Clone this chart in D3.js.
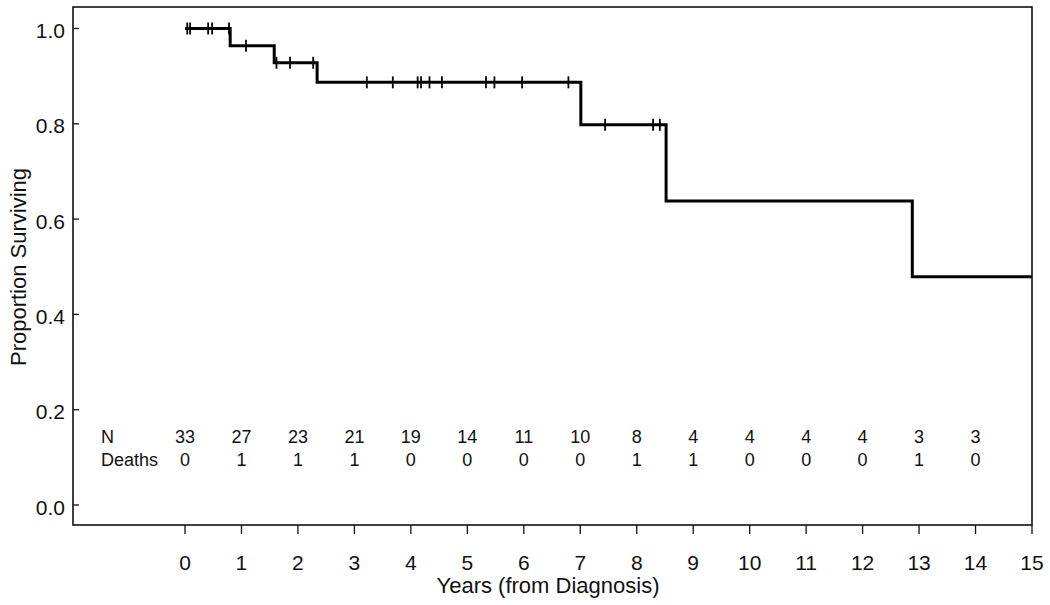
<!DOCTYPE html>
<html>
<head>
<meta charset="utf-8">
<script src="https://cdn.jsdelivr.net/npm/d3@7"></script>
<style>
  html, body { margin: 0; padding: 0; background: #fff; }
  svg { display: block; }
  text { font-family: "Liberation Sans", Arial, sans-serif; fill: #111; }
</style>
</head>
<body>
<svg id="chart" width="1050" height="605"></svg>
<script>
// ---- data ----
const stepTimes = [0, 0.80, 1.58, 2.34, 7.01, 8.52, 12.88];
const stepSurv  = [1.0, 0.964, 0.928, 0.887, 0.798, 0.638, 0.479];
const endTime = 15;
const censorTimes = [0.04, 0.09, 0.41, 0.48, 0.78, 1.08, 1.62, 1.86, 2.27,
  3.22, 3.68, 4.12, 4.18, 4.33, 4.55, 5.33, 5.48, 5.97, 6.79, 7.44, 8.29, 8.41];
const xTicks = [0,1,2,3,4,5,6,7,8,9,10,11,12,13,14,15];
const yTicks = [0.0, 0.2, 0.4, 0.6, 0.8, 1.0];
const tableYears = [0,1,2,3,4,5,6,7,8,9,10,11,12,13,14];
const atRisk = [33,27,23,21,19,14,11,10,8,4,4,4,4,3,3];
const deaths = [0,1,1,1,0,0,0,0,1,1,0,0,0,1,0];

// ---- layout ----
const box = {left: 73, right: 1032, top: 7, bottom: 525};
const svg = d3.select("#chart");
const x = d3.scaleLinear().domain([0, 15]).range([185, 1032]);
const y = d3.scaleLinear().domain([0, 1]).range([505, 28.5]);

// frame
svg.append("rect")
  .attr("x", box.left).attr("y", box.top)
  .attr("width", box.right - box.left).attr("height", box.bottom - box.top)
  .attr("fill", "none").attr("stroke", "#111").attr("stroke-width", 1.6);

// y axis ticks (inside) and labels
const yAxis = svg.append("g");
yAxis.selectAll("line").data(yTicks).join("line")
  .attr("x1", box.left).attr("x2", box.left + 6)
  .attr("y1", d => y(d)).attr("y2", d => y(d))
  .attr("stroke", "#111").attr("stroke-width", 1.3);
yAxis.selectAll("text").data(yTicks).join("text")
  .attr("x", 65).attr("y", d => y(d) + 9.5)
  .attr("text-anchor", "end").attr("font-size", 21)
  .text(d => d3.format(".1f")(d));

// x axis ticks (outside) and labels
const xAxis = svg.append("g");
xAxis.selectAll("line").data(xTicks).join("line")
  .attr("x1", d => x(d)).attr("x2", d => x(d))
  .attr("y1", box.bottom).attr("y2", box.bottom + 9)
  .attr("stroke", "#111").attr("stroke-width", 1.3);
xAxis.selectAll("text").data(xTicks).join("text")
  .attr("x", d => x(d)).attr("y", 570)
  .attr("text-anchor", "middle").attr("font-size", 21)
  .text(d => d);

// axis titles
svg.append("text")
  .attr("x", 548).attr("y", 593)
  .attr("text-anchor", "middle").attr("font-size", 22)
  .text("Years (from Diagnosis)");
svg.append("text")
  .attr("transform", "translate(26,267) rotate(-90)")
  .attr("text-anchor", "middle").attr("font-size", 22)
  .text("Proportion Surviving");

// survival curve
const pts = stepTimes.map((t, i) => [t, stepSurv[i]]);
pts.push([endTime, stepSurv[stepSurv.length - 1]]);
const line = d3.line().x(d => x(d[0])).y(d => y(d[1])).curve(d3.curveStepAfter);
svg.append("path").datum(pts)
  .attr("d", line).attr("fill", "none")
  .attr("stroke", "#000").attr("stroke-width", 3)
  .attr("stroke-linejoin", "miter");

// censor marks
function survAt(t) {
  let s = stepSurv[0];
  for (let i = 0; i < stepTimes.length; i++) if (stepTimes[i] <= t) s = stepSurv[i];
  return s;
}
svg.append("g").selectAll("line").data(censorTimes).join("line")
  .attr("x1", d => x(d)).attr("x2", d => x(d))
  .attr("y1", d => y(survAt(d)) - 6).attr("y2", d => y(survAt(d)) + 6)
  .attr("stroke", "#000").attr("stroke-width", 1.8);

// table
const tbl = svg.append("g");
tbl.append("text").attr("x", 101).attr("y", 443).attr("font-size", 18).text("N");
tbl.append("text").attr("x", 101).attr("y", 466).attr("font-size", 18).text("Deaths");
tbl.selectAll("text.n").data(tableYears).join("text").attr("class", "n")
  .attr("x", d => x(d)).attr("y", 443).attr("text-anchor", "middle").attr("font-size", 18)
  .text((d, i) => atRisk[i]);
tbl.selectAll("text.dd").data(tableYears).join("text").attr("class", "dd")
  .attr("x", d => x(d)).attr("y", 466).attr("text-anchor", "middle").attr("font-size", 18)
  .text((d, i) => deaths[i]);
</script>
</body>
</html>
